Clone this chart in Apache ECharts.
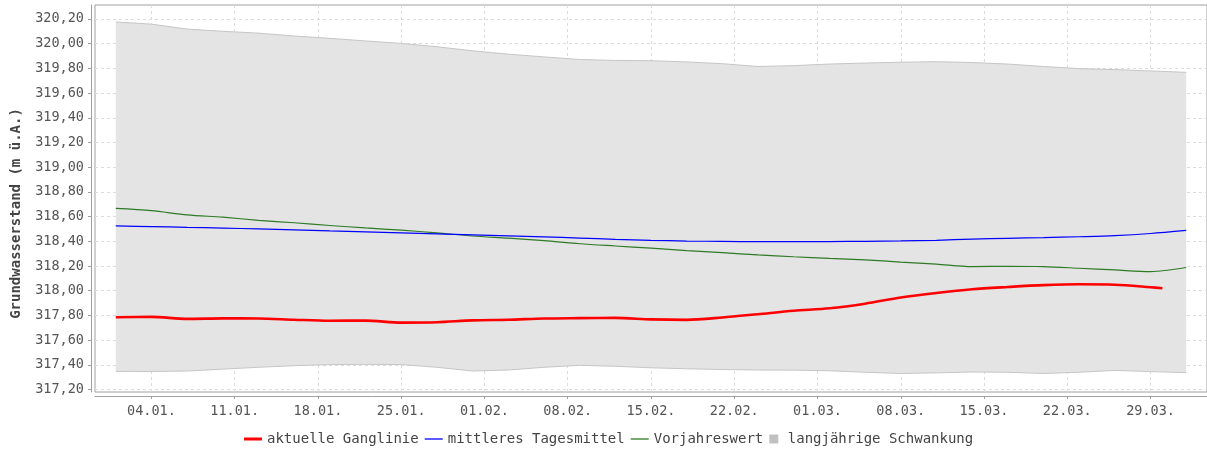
<!DOCTYPE html>
<html>
<head>
<meta charset="utf-8">
<script src="https://cdn.jsdelivr.net/npm/echarts@6/dist/echarts.min.js"></script>
<style>
  html, body { margin: 0; padding: 0; background: #fff; }
  #main { width: 1207px; height: 450px; }
</style>
</head>
<body>
<div id="main"></div>
<script>
// day index: 0 = 01.01.
var days = [0, 3, 6, 9, 12, 15, 18, 21, 24, 27, 30, 33, 36, 39, 42, 45, 48, 51, 54, 57, 60, 63, 66, 69, 72, 75, 78, 81, 84, 87, 90];

var aktuell = [317.785, 317.788, 317.772, 317.776, 317.775, 317.765, 317.757, 317.758, 317.742, 317.745,
  317.760, 317.765, 317.775, 317.778, 317.780, 317.768, 317.764, 317.783, 317.810, 317.838,
  317.858, 317.895, 317.945, 317.982, 318.012, 318.030, 318.045, 318.052, 318.048, 318.028];
var aktuellEnd = [88, 318.020];

var mittel = [318.525, 318.519, 318.513, 318.507, 318.500, 318.492, 318.484, 318.477, 318.468, 318.460,
  318.452, 318.444, 318.436, 318.426, 318.416, 318.408, 318.402, 318.399, 318.397, 318.397,
  318.398, 318.400, 318.403, 318.408, 318.418, 318.424, 318.430, 318.437, 318.446, 318.463, 318.488];

var vorjahr = [318.666, 318.648, 318.614, 318.595, 318.570, 318.550, 318.528, 318.508, 318.490, 318.468,
  318.443, 318.425, 318.405, 318.380, 318.362, 318.345, 318.325, 318.308, 318.290, 318.275,
  318.262, 318.250, 318.232, 318.215, 318.195, 318.198, 318.195, 318.182, 318.168, 318.155, 318.188];

var schwankungMax = [320.176, 320.158, 320.118, 320.100, 320.085, 320.062, 320.043, 320.022, 320.002, 319.975,
  319.942, 319.915, 319.893, 319.872, 319.864, 319.862, 319.852, 319.838, 319.815, 319.822,
  319.835, 319.843, 319.850, 319.854, 319.847, 319.835, 319.815, 319.798, 319.790, 319.779, 319.768];

var schwankungMin = [317.347, 317.346, 317.350, 317.365, 317.380, 317.393, 317.402, 317.404, 317.402, 317.380,
  317.350, 317.358, 317.380, 317.396, 317.388, 317.376, 317.368, 317.362, 317.358, 317.357,
  317.352, 317.340, 317.330, 317.335, 317.342, 317.340, 317.330, 317.340, 317.355, 317.345, 317.337];

var tickDays = [3, 10, 17, 24, 31, 38, 45, 52, 59, 66, 73, 80, 87];
var tickLabels = ['04.01.', '11.01.', '18.01.', '25.01.', '01.02.', '08.02.', '15.02.', '22.02.', '01.03.', '08.03.', '15.03.', '22.03.', '29.03.'];
var yTicks = [317.2, 317.4, 317.6, 317.8, 318.0, 318.2, 318.4, 318.6, 318.8, 319.0, 319.2, 319.4, 319.6, 319.8, 320.0, 320.2];

function pairs(xs, ys) {
  var out = [];
  for (var i = 0; i < ys.length; i++) out.push([xs[i], ys[i]]);
  return out;
}

var redData = pairs(days, aktuell);
redData.push(aktuellEnd);

var font = 'DejaVu Sans Mono';
var myChart = echarts.init(document.getElementById('main'));

// band between long-term min and max, mapped through the axes
function renderBand(params, api) {
  var top = [], bottom = [];
  for (var i = 0; i < days.length; i++) {
    top.push(api.coord([days[i], schwankungMax[i]]));
    bottom.push(api.coord([days[i], schwankungMin[i]]));
  }
  var poly = top.concat(bottom.slice().reverse());
  return {
    type: 'group',
    children: [
      { type: 'polygon', shape: { points: poly }, style: { fill: '#e4e4e4', stroke: null } },
      { type: 'polyline', shape: { points: top }, style: { stroke: '#c6c6c6', lineWidth: 1, fill: null } },
      { type: 'polyline', shape: { points: bottom }, style: { stroke: '#c6c6c6', lineWidth: 1, fill: null } }
    ]
  };
}

myChart.setOption({
  animation: false,
  grid: {
    left: 95,
    right: -1,
    top: 5,
    bottom: 58,
    show: true,
    backgroundColor: '#fff',
    borderColor: '#a0a0a0',
    borderWidth: 1
  },
  legend: {
    top: 427,
    left: 239,
    itemWidth: 18,
    itemHeight: 9,
    itemGap: 6,
    textStyle: { fontFamily: font, fontSize: 14, color: '#444' },
    data: [
      { name: 'aktuelle Ganglinie', icon: 'path://M0,0H18V3H0Z' },
      { name: 'mittleres Tagesmittel', icon: 'path://M0,0H18V1.3H0Z' },
      { name: 'Vorjahreswert', icon: 'path://M0,0H18V1.3H0Z' },
      { name: 'langjährige Schwankung', icon: 'path://M0,0H9V9H0Z', itemStyle: { color: '#c0c0c0' } }
    ]
  },
  xAxis: {
    type: 'value',
    min: -1.75,
    max: 91.75,
    offset: 4,
    axisLine: { show: true, onZero: false, lineStyle: { color: '#a0a0a0' } },
    axisTick: { show: true, length: 3, customValues: tickDays, lineStyle: { color: '#a0a0a0' } },
    axisLabel: {
      customValues: tickDays,
      margin: 8,
      fontFamily: font,
      fontSize: 13.5,
      color: '#555',
      formatter: function (v) {
        var i = tickDays.indexOf(v);
        return i >= 0 ? tickLabels[i] : '';
      }
    },
    splitLine: { show: true, lineStyle: { color: '#dcdcdc', type: [3, 3] } }
  },
  yAxis: {
    type: 'value',
    min: 317.18,
    max: 320.313,
    offset: 4,
    name: 'Grundwasserstand (m ü.A.)',
    nameLocation: 'middle',
    nameGap: 68,
    nameTextStyle: { fontFamily: font, fontSize: 14, fontWeight: 'bold', color: '#444', padding: [0, 30, 0, 0] },
    axisLine: { show: true, onZero: false, lineStyle: { color: '#a0a0a0' } },
    axisTick: { show: true, length: 3, customValues: yTicks, lineStyle: { color: '#a0a0a0' } },
    axisLabel: {
      customValues: yTicks,
      margin: 7,
      fontFamily: font,
      fontSize: 13.5,
      color: '#555',
      formatter: function (v) { return v.toFixed(2).replace('.', ','); }
    },
    splitLine: { show: true, lineStyle: { color: '#dcdcdc', type: [3, 3] } }
  },
  series: [
    {
      name: 'langjährige Schwankung',
      type: 'custom',
      renderItem: renderBand,
      data: [[0, schwankungMin[0]]],
      itemStyle: { color: '#c0c0c0' },
      z: 1
    },
    {
      name: 'Vorjahreswert',
      type: 'line',
      symbol: 'none',
      smooth: 0.3,
      data: pairs(days, vorjahr),
      lineStyle: { color: '#2e7a25', width: 1.2 },
      itemStyle: { color: '#2e7a25' },
      z: 3
    },
    {
      name: 'mittleres Tagesmittel',
      type: 'line',
      symbol: 'none',
      smooth: 0.3,
      data: pairs(days, mittel),
      lineStyle: { color: '#0000ff', width: 1.2 },
      itemStyle: { color: '#0000ff' },
      z: 3
    },
    {
      name: 'aktuelle Ganglinie',
      type: 'line',
      symbol: 'none',
      smooth: 0.3,
      data: redData,
      lineStyle: { color: '#ff0000', width: 2.6 },
      itemStyle: { color: '#ff0000' },
      z: 4
    }
  ]
});
</script>
</body>
</html>
